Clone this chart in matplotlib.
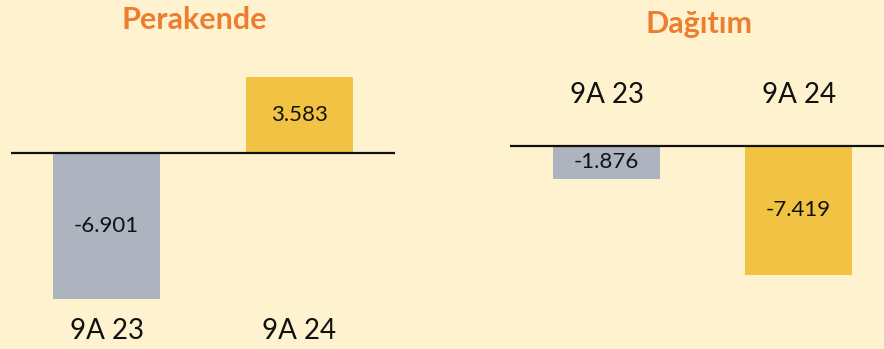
import matplotlib
matplotlib.use("Agg")
import matplotlib.pyplot as plt

plt.rcParams["font.family"] = ["Lato", "DejaVu Sans"]

BG = "#FFF2CF"
TITLE_COLOR = "#ED7D31"
BAR_COLORS = ["#ADB3BF", "#F2C343"]

periods = ["9A 23", "9A 24"]
retail_values = [-6901, 3583]
distribution_values = [-1876, -7419]


def fmt_tr(v):
    return f"{v:,}".replace(",", ".")


fig = plt.figure(figsize=(8.84, 3.49), dpi=100)
fig.patch.set_facecolor(BG)

W, H = 884, 349


def make_panel(rect_px, zero_px, px_per_unit, xlim, values, title, title_x, title_y, label_y):
    x0, x1 = rect_px
    ax = fig.add_axes([x0 / W, 0, (x1 - x0) / W, 1])
    ax.set_facecolor(BG)
    ax.set_xlim(*xlim)
    ax.set_ylim(-(H - zero_px) / px_per_unit, zero_px / px_per_unit)
    bars = ax.bar(range(len(values)), values, width=0.555, color=BAR_COLORS)
    ax.bar_label(bars, labels=[fmt_tr(v) for v in values], label_type="center",
                 fontsize=16, color="#111111")
    ax.axhline(0, color="#111111", lw=1.6)
    ax.axis("off")

    # titles and period labels sit at fixed pixel heights
    ax.text(title_x, (zero_px - title_y) / px_per_unit, title,
            ha="center", va="center", fontsize=22, fontweight="bold", color=TITLE_COLOR)
    ly = (zero_px - label_y) / px_per_unit
    for i, p in enumerate(periods):
        ax.text(i, ly, p, ha="center", va="center", fontsize=20, color="#111111")
    return ax


make_panel((11, 395), 153, 0.0211, (-0.495, 1.495), retail_values,
           "Perakende", 0.453, 20, 331)
make_panel((510, 884), 146, 0.01735, (-0.503, 1.445), distribution_values,
           "Dağıtım", 0.48, 24, 95)

fig.savefig("out.png", dpi=100, facecolor=BG)
